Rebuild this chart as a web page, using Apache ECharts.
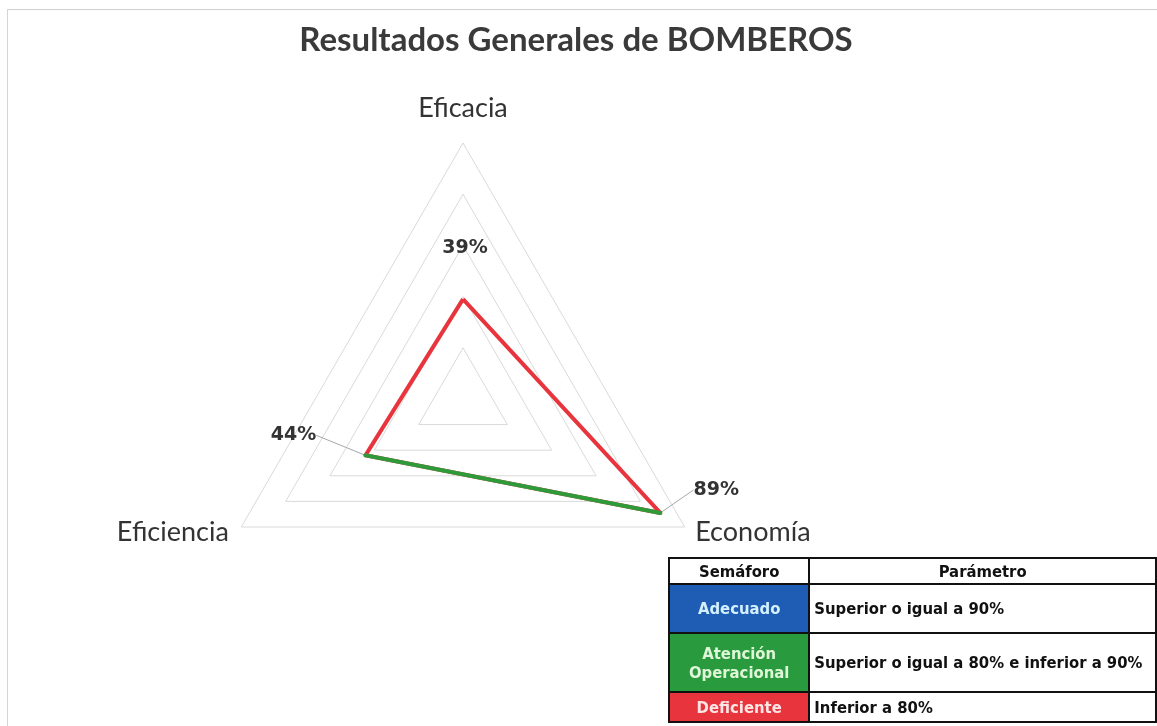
<!DOCTYPE html>
<html>
<head>
<meta charset="utf-8">
<script src="https://cdn.jsdelivr.net/npm/echarts@6/dist/echarts.min.js"></script>
<style>
  html, body { margin:0; padding:0; background:#fff; width:1157px; height:726px; overflow:hidden; }
  #chart { position:absolute; left:0; top:0; width:1157px; height:726px; }
  #frameTop { position:absolute; left:7px; top:9px; width:1150px; height:0; border-top:1.5px solid #cfcfcf; }
  #frameLeft { position:absolute; left:7px; top:9px; width:0; height:717px; border-left:1.5px solid #d4d4d4; }
  #legendTable { position:absolute; left:668px; top:557px; border-collapse:collapse;
    font-family:"Liberation Sans Narrow","DejaVu Sans Condensed","Liberation Sans",sans-serif; font-weight:bold; font-size:16.5px; }
  #legendTable td { border:2.5px solid #111; padding:0 4px; line-height:19px; box-sizing:border-box; }
  #legendTable td.sem { width:141px; text-align:center; }
  #legendTable td.par { width:352px; text-align:left; color:#111; }
  #legendTable tr.hdr td { text-align:center; color:#111; background:#fff; }
</style>
</head>
<body>
<div id="chart"></div>
<div id="frameTop"></div>
<div id="frameLeft"></div>
<table id="legendTable"></table>
<script>
// ---- data ----
var titleText = 'Resultados Generales de BOMBEROS';
var indicators = ['Eficacia', 'Eficiencia', 'Economía'];
var values = [39, 44, 89];           // percent
var maxValue = 100;
// segment coloured green (pair of indicator indices)
var greenSegment = [1, 2];
// legend table
var semaforoHeader = ['Semáforo', 'Parámetro'];
var semaforoNames = ['Adecuado', 'Atención<br>Operacional', 'Deficiente'];
var semaforoParams = ['Superior o igual a 90%', 'Superior o igual a 80% e inferior a 90%', 'Inferior a 80%'];
var semaforoColors = ['#1f5db5', '#2a9a3e', '#e8343c'];
var semaforoTextColors = ['#d4f0ff', '#dff7d8', '#ffe6e6'];
var headerHeight = 26;
var rowHeights = [49, 59, 30];

// ---- table ----
var tbl = document.getElementById('legendTable');
var html = '<tr class="hdr" style="height:' + headerHeight + 'px"><td class="sem">' + semaforoHeader[0] + '</td><td class="par" style="text-align:center">' + semaforoHeader[1] + '</td></tr>';
for (var i = 0; i < semaforoNames.length; i++) {
  html += '<tr style="height:' + rowHeights[i] + 'px"><td class="sem" style="background:' + semaforoColors[i] + ';color:' + semaforoTextColors[i] + '">' + semaforoNames[i] +
          '</td><td class="par">' + semaforoParams[i] + '</td></tr>';
}
tbl.innerHTML = html;

// ---- chart ----
var n = indicators.length;
function angleOf(idx) { return idx * 360 / n; }
var labelOffsets = [[2, -51], [-72, -20], [56, -23]];
var nameStyleKeys = ['t', 'l', 'r'];
var labelData = values.map(function (v, i) {
  return {
    value: [v, angleOf(i)],
    labelLine: { show: i !== 0 }
  };
});
var greenData = greenSegment.map(function (i) { return [values[i], angleOf(i)]; });

var chart = echarts.init(document.getElementById('chart'), null, { renderer: 'canvas' });
chart.setOption({
  backgroundColor: 'transparent',
  animation: false,
  title: {
    text: titleText, left: 571, top: 19, textAlign: 'center',
    textStyle: { fontFamily: 'Lato', fontWeight: 'bold', fontSize: 33, color: '#3a3a3a' }
  },
  radar: {
    center: [463, 399], radius: 256, startAngle: 90, splitNumber: 5, shape: 'polygon',
    indicator: indicators.map(function (name) { return { name: name, max: maxValue, min: 0 }; }),
    nameGap: 4,
    axisName: {
      color: '#333', fontFamily: 'Lato', fontSize: 27,
      formatter: function (name) {
        var k = nameStyleKeys[indicators.indexOf(name)];
        return '{' + k + '|' + name + '}';
      },
      rich: {
        t: { fontFamily: 'Lato', fontSize: 27, color: '#333', padding: [0, 0, 17, 0] },
        l: { fontFamily: 'Lato', fontSize: 27, color: '#333', lineHeight: 8, padding: [6, 9, 0, 0] },
        r: { fontFamily: 'Lato', fontSize: 27, color: '#333', lineHeight: 8, padding: [6, 0, 0, 7] }
      }
    },
    splitLine: { lineStyle: { color: '#d9d9d9', width: 1 } },
    splitArea: { show: false },
    axisLine: { show: false },
    axisTick: { show: false },
    axisLabel: { show: false }
  },
  polar: { center: [463, 399], radius: 256 },
  angleAxis: { type: 'value', min: 0, max: 360, startAngle: 90, clockwise: false, show: false },
  radiusAxis: { type: 'value', min: 0, max: maxValue, show: false },
  series: [
    {
      type: 'radar', symbol: 'none', z: 2,
      lineStyle: { color: '#e8343c', width: 4, join: 'round' },
      data: [{ value: values }]
    },
    {
      type: 'line', coordinateSystem: 'polar', symbol: 'none', z: 3,
      lineStyle: { color: '#2e9a3a', width: 4, cap: 'round' },
      data: greenData
    },
    {
      type: 'scatter', coordinateSystem: 'polar', symbolSize: 1, z: 1,
      itemStyle: { color: 'rgba(255,255,255,0)' },
      label: {
        show: true, position: 'inside', color: '#333', fontFamily: 'DejaVu Sans', fontWeight: 'bold', fontSize: 19,
        textBorderWidth: 0, textBorderColor: 'transparent', opacity: 1,
        formatter: function (p) { return p.value[0] + '%'; }
      },
      labelLine: { show: true, lineStyle: { color: '#a6a6a6', width: 1 } },
      labelLayout: function (p) {
        return { dx: labelOffsets[p.dataIndex][0], dy: labelOffsets[p.dataIndex][1] };
      },
      data: labelData
    }
  ]
});
</script>
</body>
</html>
